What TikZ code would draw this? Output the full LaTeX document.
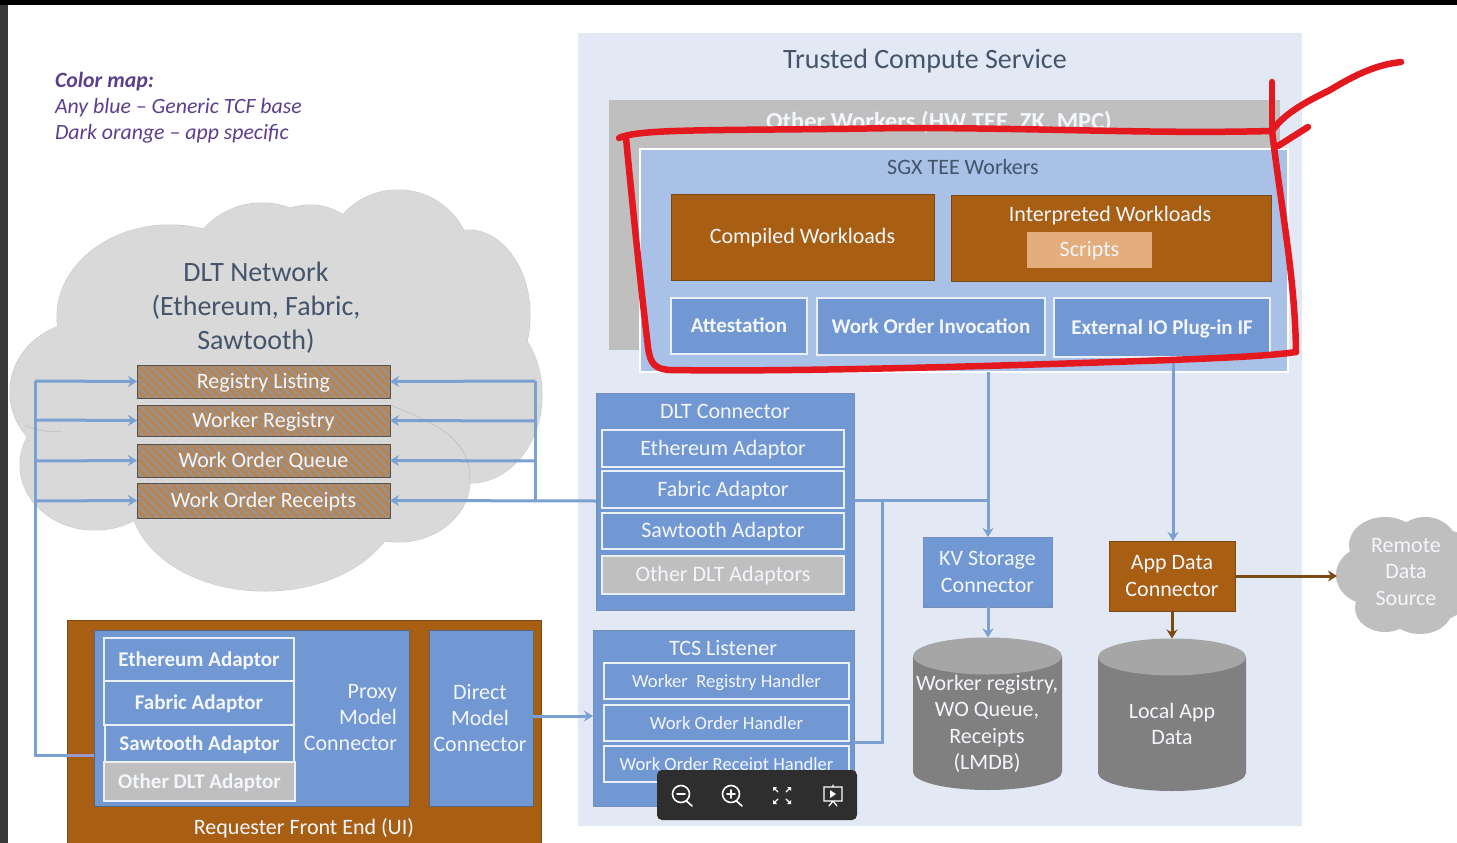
\documentclass[tikz,border=0pt]{standalone}
\usepackage{fontspec}
\setmainfont{Carlito}
\usetikzlibrary{arrows.meta,patterns.meta,shapes.geometric}
\definecolor{tcsbg}{HTML}{E2E9F5}
\definecolor{otherg}{HTML}{BFBFBF}
\definecolor{sgx}{HTML}{A9C1E6}
\definecolor{orng}{HTML}{A85F14}
\definecolor{scr}{HTML}{E3AD7C}
\definecolor{blu}{HTML}{7298D3}
\definecolor{navy}{HTML}{44546A}
\definecolor{line}{HTML}{7BA0D2}
\definecolor{brn}{HTML}{7A4A14}
\definecolor{redm}{HTML}{E3191F}
\definecolor{cloudg}{HTML}{D9D9D9}
\definecolor{purp}{HTML}{5B3F8E}
\definecolor{wht}{HTML}{F3F6FB}
\definecolor{hatchb}{HTML}{B8844F}
\definecolor{hatchg}{HTML}{98918E}
\newcommand{\bx}[7]{\node[#2,minimum width={(#5-#3)*1pt},minimum height={(#6-#4)*1pt}] (#1) at ({(#3+#5)/2},{(#4+#6)/2}) {#7};}
\newcommand{\fs}[1]{\fontsize{#1}{#1}\selectfont}
\newcommand{\fsb}[2]{\fontsize{#1}{#2}\selectfont}
\tikzset{
  base/.style={rectangle,inner sep=0pt,outer sep=0pt,align=center,text=wht,text height=14pt,text depth=1pt},
  multi/.style={text height=,text depth=,font=\fsb{22}{26.5}},
  panel/.style={base,fill=blu,draw=blu!80!black!85,line width=.8pt},
  slot/.style={base,fill=blu,draw=white!85!blu,line width=1.1pt,font=\fs{22}},
  slotg/.style={base,fill=otherg,draw=white!85!blu,line width=1.1pt,font=\fs{22}},
  slotb/.style={slot,font=\bfseries\fs{21}},
  slots/.style={slot,font=\fs{18.6}},
  org/.style={base,fill=orng,draw=brn,line width=.8pt,font=\fs{22}},
  hatch/.style={base,fill=none,draw=none,font=\fs{22}},
  hbox/.style={pattern={Lines[angle=-45,distance=6pt,line width=2.5pt]},pattern color=hatchg},
  conn/.style={draw=line,line width=3pt},
  arr/.style={conn,-{Stealth[length=9pt,width=11pt]}},
  brnarr/.style={draw=brn,line width=3pt,-{Stealth[length=9pt,width=11pt]}},
  redink/.style={draw=redm,line width=6.5pt,line cap=round,line join=round},
  label/.style={inner sep=0pt,outer sep=0pt,align=center},
  tool/.style={draw=white,line width=1.6pt,fill=none,line cap=round},
  lobe/.style={draw=black!22,line width=1pt},
}
\begin{document}
\begin{tikzpicture}[x=1pt,y=-1pt]
\useasboundingbox (0,0) rectangle (1457,843);
\fill[white] (0,0) rectangle (1457,843);
% screenshot frame
\fill[black] (0,0) rectangle (1457,5);
\fill[black!78] (0,5) rectangle (8,843);
% colour legend
\node[label,anchor=north west,text=purp,align=left,font=\fsb{21.8}{26}\itshape] (legend) at (55,72) {\textbf{Color map:}\\Any blue -- Generic TCF base\\Dark orange -- app specific};
% DLT cloud
\foreach \x/\y/\a/\b in {170/317/113/92, 262/285/80/82, 310/265/60/60, 398/262/73/72, 468/315/62/85, 470/395/72/88, 85/392/75/70, 95/465/75/65, 265/497/135/94, 398/480/72/62}{
  \draw[lobe] (\x,\y) ellipse [x radius=\a,y radius=\b];
}
\foreach \x/\y/\a/\b in {170/317/113/92, 262/285/80/82, 310/265/60/60, 398/262/73/72, 468/315/62/85, 470/395/72/88, 85/392/75/70, 95/465/75/65, 265/497/135/94, 398/480/72/62}{
  \fill[cloudg] (\x,\y) ellipse [x radius=\a,y radius=\b];
}
\fill[cloudg] (120,240) rectangle (440,500);
\fill[cloudg] (60,370) rectangle (500,440);
\draw[lobe] (390,405) .. controls (440,425) and (470,440) .. (470,480);
\draw[lobe] (25,425) .. controls (40,432) and (50,432) .. (62,431);
\node[label,text=navy,font=\fsb{28}{34},align=center] (dlttitle) at (256,308) {DLT Network\\(Ethereum, Fabric,\\Sawtooth)};
% registry boxes
\foreach \n/\ya/\yb/\t in {reg1/365/398/Registry Listing,reg2/405/436/Worker Registry,reg3/444/477/Work Order Queue,reg4/483/518/Work Order Receipts}{
  \fill[hatchb] (137,\ya) rectangle (390,\yb);
  \fill[hbox] (137,\ya) rectangle (390,\yb);
  \draw[black!45!hatchg,line width=1pt] (137,\ya) rectangle (390,\yb);
  \bx{\n}{hatch}{137}{\ya}{390}{\yb}{\t}
}
% Trusted Compute Service
\bx{tcs}{base,fill=tcsbg}{578}{33}{1302}{826}{}
\node[label,text=navy,font=\fs{28}] (tcstitle) at (925,61) {Trusted Compute Service};
\bx{other}{base,fill=otherg}{609}{100}{1280}{350}{}
\node[label,text=wht,font=\bfseries\fs{24.5}] (othertxt) at (939,122.5) {Other Workers (HW TEE, ZK, MPC)};
\bx{sgxp}{base,fill=sgx,draw=white,line width=2.5pt}{640}{149}{1288}{372}{}
\node[label,text=navy,font=\fs{22}] (sgxtxt) at (963,167) {SGX TEE Workers};
\bx{comp}{org}{671}{194}{934}{280}{Compiled Workloads}
\bx{interp}{org}{951}{195}{1271}{281}{}
\node[label,text=wht,font=\fs{22}] (interptxt) at (1110,216) {Interpreted Workloads};
\bx{scripts}{base,fill=scr,font=\fs{22}}{1027}{232}{1152}{268}{Scripts}
\bx{att}{slotb}{671}{298}{807}{354}{Attestation}
\bx{woi}{slotb}{817}{298}{1045}{355}{Work Order Invocation}
\bx{ext}{slotb}{1054}{298}{1270}{357}{External IO Plug-in IF}
% DLT connector
\bx{dltc}{panel}{596}{393}{854}{610}{}
\node[label,text=wht,font=\fs{22}] (dltctxt) at (725,411) {DLT Connector};
\bx{ca1}{slot}{602}{430}{844}{467}{Ethereum Adaptor}
\bx{ca2}{slot}{602}{471}{844}{508}{Fabric Adaptor}
\bx{ca3}{slot}{602}{513}{844}{549}{Sawtooth Adaptor}
\bx{ca4}{slotg}{602}{556}{844}{594}{Other DLT Adaptors}
% TCS Listener
\bx{lst}{panel}{593}{630}{854}{806}{}
\node[label,text=wht,font=\fs{22}] (lsttxt) at (723,648) {TCS Listener};
\bx{h1}{slots}{604}{663}{849}{699}{Worker\ \ Registry Handler}
\bx{h2}{slots}{604}{705}{849}{741}{Work Order Handler}
\bx{h3}{slots}{604}{746}{849}{782}{Work Order Receipt Handler}
% KV + App data
\bx{kv}{panel,multi}{923}{537}{1052}{607}{KV Storage\\Connector}
\bx{app}{org,multi}{1109}{541}{1235}{611}{App Data\\Connector}
% cylinders
\fill[black!50] (913,656) -- (913,772) arc[start angle=180,end angle=0,x radius=74.5,y radius=18] -- (1062,656) -- cycle;
\node[label,fill=black!35,ellipse,minimum width=149pt,minimum height=37pt] (cyl1top) at (987.5,656) {};
\node[label,text=wht,font=\fsb{22}{26.4}] (cyl1) at (987,724) {Worker registry,\\WO Queue,\\Receipts\\(LMDB)};
\fill[black!50] (1098,657) -- (1098,773) arc[start angle=180,end angle=0,x radius=74,y radius=18] -- (1246,657) -- cycle;
\node[label,fill=black!35,ellipse,minimum width=148pt,minimum height=37pt] (cyl2top) at (1172,657) {};
\node[label,text=wht,font=\fsb{22}{26}] (cyl2) at (1172,724) {Local App\\Data};
% remote cloud
\foreach \x/\y/\a/\b in {1372/575/36/30,1385/545/36/28,1425/545/32/28,1445/560/30/30,1440/590/30/30,1420/610/32/24,1385/608/30/24,1400/575/40/45}{
 \fill[otherg] (\x,\y) ellipse [x radius=\a,y radius=\b];
}
\node[label,text=wht,font=\fsb{22}{26.5}] (remote) at (1406,572) {Remote\\Data\\Source};
\coordinate (remoteW) at (1337,576);
% requester
\bx{req}{org}{67}{620}{541}{850}{}
\node[label,text=wht,font=\fs{22}] (reqtxt) at (304,828) {Requester Front End (UI)};
\bx{proxy}{base,fill=blu,draw=black!40!blu!70!gray,line width=.7pt}{94}{630}{409}{806}{}
\node[label,text=wht,font=\fsb{22}{26},align=right,anchor=east] (proxytxt) at (397,718) {Proxy\\Model\\Connector};
\bx{direct}{base,fill=blu,draw=black!40!blu!70!gray,line width=.7pt}{429}{630}{533}{806}{}
\node[label,text=wht,font=\fsb{22}{26}] (directtxt) at (480,718) {Direct\\Model\\Connector};
\bx{p1}{slotb}{104}{638}{294}{681}{Ethereum Adaptor}
\bx{p2}{slotb}{104}{681}{294}{725}{Fabric Adaptor}
\bx{p3}{slotb}{105}{725}{294}{762}{Sawtooth Adaptor}
\bx{p4}{slotg,font=\bfseries\fs{21}}{104}{762}{295}{801}{Other DLT Adaptor}
% connector junctions
\coordinate (lb) at (35,755);
\coordinate (lt) at (35,381);
\coordinate (rt) at (535,381);
\coordinate (jr) at (535,501);
\coordinate (kvj) at (988,500);
\coordinate (hj) at (882,500);
% connectors
\draw[conn] (lt) -- (lb) -- (94,755);
\draw[draw=otherg!80!blue,line width=3pt] (67,755) -- (94,755);
\draw[arr] (lt) -- (reg1.west);
\draw[arr] (35,420) -- (reg2.west);
\draw[arr] (35,461) -- (reg3.west);
\draw[arr] (35,501) -- (reg4.west);
\draw[conn] (rt) -- (jr);
\draw[arr] (rt) -- (reg1.east);
\draw[arr] (535,421) -- (reg2.east);
\draw[arr] (535,461) -- (reg3.east);
\draw[arr] (dltc.west |- jr) -- (reg4.east);
\draw[arr] (dltc.east |- kvj) -- (kvj) -- (kv.north -| kvj);
\draw[conn] (sgxp.south -| kvj) -- (kvj);
\draw[conn] (hj) -- (882,742) -- (lst.east |- 0,742);
\draw[arr] (ext.south -| 1173,0) -- (app.north -| 1173,0);
\draw[arr] (kv.south -| kvj) -- (cyl1top.north -| kvj);
\draw[brnarr] (app.south -| 1172,0) -- (cyl2top.north -| 1172,0);
\draw[brnarr] (app.east |- remoteW) -- (remoteW);
\draw[arr] (direct.east |- 0,716) -- (lst.west |- 0,716);
% red annotation
\draw[redink] (619,138) .. controls (640,128) and (720,131) .. (900,128) .. controls (1050,128) and (1150,134) .. (1272,131);
\draw[redink] (626,138) .. controls (632,200) and (640,280) .. (648,347) .. controls (650,364) and (655,369) .. (670,370) .. controls (800,372) and (1000,366) .. (1170,360) .. controls (1220,358) and (1270,356) .. (1296,352);
\draw[redink] (1272,131) .. controls (1283,220) and (1295,280) .. (1296,352);
\draw[redink] (1272,82) -- (1272,131);
\draw[redink] (1272,131) .. controls (1285,112) and (1310,100) .. (1330,90) .. controls (1355,75) and (1375,65) .. (1401,62);
\draw[redink] (1278,146) -- (1308,127);
% viewer toolbar
\fill[black!82,rounded corners=5pt] (657,770) rectangle (857,820);
\draw[tool] (681,794) circle (8.5pt) (686.5,801) -- (692,806) (677,794) -- (685,794);
\draw[tool] (731,794) circle (8.5pt) (736.5,801) -- (742,806) (727,794) -- (735,794) (731,790) -- (731,798);
\draw[tool,line width=1.2pt] (774,788) -- (778,792) (790,788) -- (786,792) (774,803) -- (778,799) (790,803) -- (786,799);
\fill[white] (773,787) -- (777,787) -- (773,791) -- cycle (791,787) -- (787,787) -- (791,791) -- cycle (773,804) -- (777,804) -- (773,800) -- cycle (791,804) -- (787,804) -- (791,800) -- cycle;
\draw[tool,line width=1.2pt] (824,787) rectangle (842,801) (833,801) -- (829,806) (833,801) -- (837,806) (833,785)--(833,787);
\fill[white] (830,790) -- (836,794) -- (830,798) -- cycle;
\end{tikzpicture}
\end{document}
